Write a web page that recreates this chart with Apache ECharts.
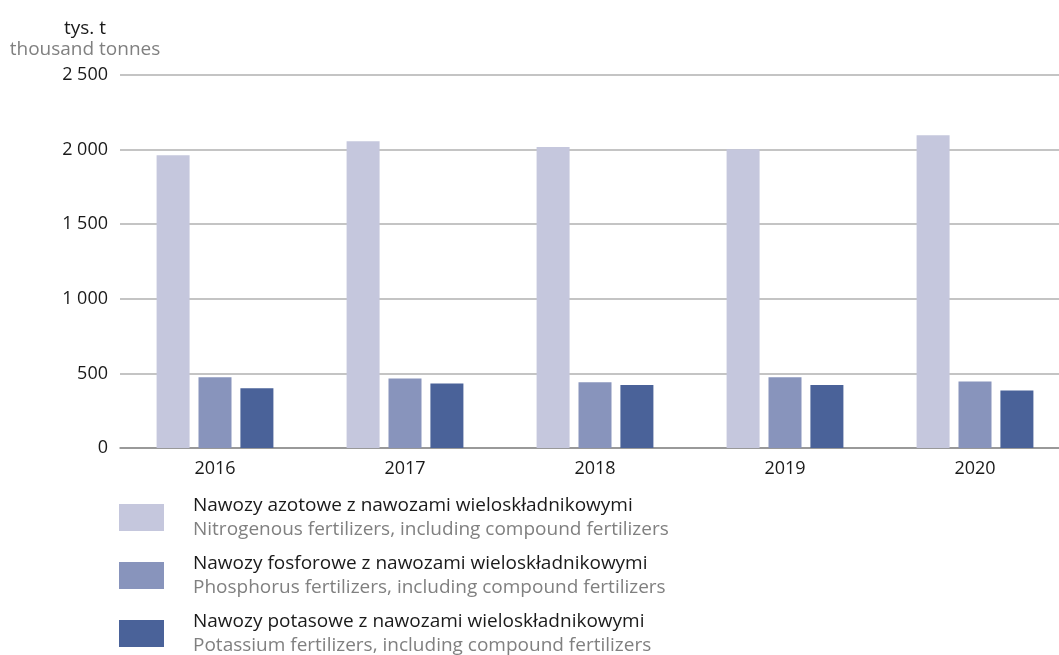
<!DOCTYPE html>
<html>
<head>
<meta charset="utf-8">
<script src="https://cdn.jsdelivr.net/npm/echarts@6/dist/echarts.min.js"></script>
<style>
  html, body { margin: 0; padding: 0; background: #fff; }
  #chart { width: 1059px; height: 655px; }
</style>
</head>
<body>
<div id="chart"></div>
<script>
const years = ['2016', '2017', '2018', '2019', '2020']
const nitrogen = [1962, 2056, 2018, 2002, 2096]
const phosphorus = [475, 466, 440, 475, 446]
const potassium = [400, 433, 422, 422, 385]
const yTicks = [0, 500, 1000, 1500, 2000, 2500]

const seriesNames = [
  ['Nawozy azotowe z nawozami wieloskładnikowymi', 'Nitrogenous fertilizers, including compound fertilizers'],
  ['Nawozy fosforowe z nawozami wieloskładnikowymi', 'Phosphorus fertilizers, including compound fertilizers'],
  ['Nawozy potasowe z nawozami wieloskładnikowymi', 'Potassium fertilizers, including compound fertilizers']
]
const colors = ['#C5C7DD', '#8894BC', '#4A6299']

const font = 'Open Sans'
const chart = echarts.init(document.getElementById('chart'))

const makeSeries = (idx, data) => ({
  name: seriesNames[idx][0],
  type: 'bar',
  data: data,
  barWidth: 33,
  barGap: '27%',
  itemStyle: { color: colors[idx] },
  emphasis: { disabled: true }
})

const option = {
  animation: false,
  textStyle: { fontFamily: font },
  title: {
    text: '{a|tys. t}\n{b|thousand tonnes}',
    left: 80,
    top: 13,
    textAlign: 'center',
    textStyle: {
      fontWeight: 'normal',
      fontSize: 19,
      rich: {
        a: { fontFamily: font, fontSize: 19, fontWeight: 'normal', color: '#1a1a1a', lineHeight: 21, align: 'center' },
        b: { fontFamily: font, fontSize: 19, fontWeight: 'normal', color: '#808080', lineHeight: 21, align: 'center' }
      }
    }
  },
  grid: {
    left: 120,
    width: 950,
    top: 75,
    bottom: 207,
    outerBoundsMode: 'none'
  },
  legend: {
    orient: 'vertical',
    left: 119,
    top: 496,
    height: 220,
    padding: 0,
    itemWidth: 45,
    itemHeight: 27,
    itemGap: 15,
    icon: 'rect',
    selectedMode: false,
    formatter: name => {
      const pair = seriesNames.find(p => p[0] === name)
      return '{a|' + pair[0] + '}\n{b|' + pair[1] + '}'
    },
    textStyle: {
      fontSize: 19,
      padding: [0, 0, 0, 24],
      rich: {
        a: { fontFamily: font, fontSize: 19, color: '#1a1a1a', lineHeight: 24 },
        b: { fontFamily: font, fontSize: 19, color: '#808080', lineHeight: 24 }
      }
    }
  },
  xAxis: {
    type: 'category',
    data: years,
    axisTick: { show: false },
    axisLine: { lineStyle: { color: '#8a8a8a', width: 1.5 } },
    axisLabel: { fontFamily: font, fontSize: 18, color: '#1a1a1a', margin: 12 }
  },
  yAxis: {
    type: 'value',
    min: yTicks[0],
    max: yTicks[yTicks.length - 1],
    interval: 500,
    axisLine: { show: false },
    axisTick: { show: false },
    splitLine: { lineStyle: { color: '#b0b0b0', width: 1.5 } },
    axisLabel: {
      fontFamily: font,
      fontSize: 18,
      color: '#1a1a1a',
      margin: 12,
      formatter: v => String(v).replace(/\B(?=(\d{3})+(?!\d))/g, ' ')
    }
  },
  series: [
    makeSeries(0, nitrogen),
    makeSeries(1, phosphorus),
    makeSeries(2, potassium)
  ]
}

chart.setOption(option)
</script>
</body>
</html>
